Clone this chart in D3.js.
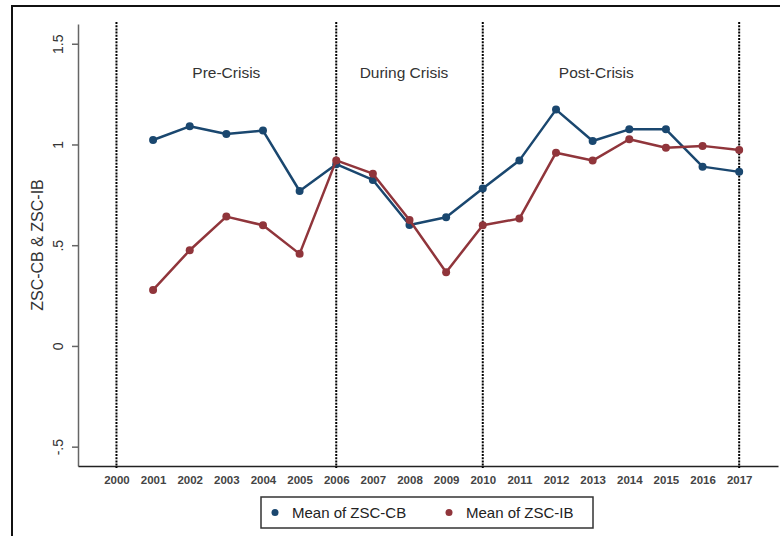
<!DOCTYPE html>
<html>
<head>
<meta charset="utf-8">
<script src="https://cdn.jsdelivr.net/npm/d3@7"></script>
<style>
  body { margin: 0; background: #fff; }
  svg { display: block; font-family: Arial, "Liberation Sans", sans-serif; }
</style>
</head>
<body>
<svg id="chart" width="780" height="536"></svg>
<script>
const years = [2001, 2002, 2003, 2004, 2005, 2006, 2007, 2008, 2009, 2010, 2011, 2012, 2013, 2014, 2015, 2016, 2017];
const zscCB = [1.022, 1.090, 1.052, 1.069, 0.769, 0.902, 0.824, 0.600, 0.639, 0.781, 0.921, 1.173, 1.017, 1.075, 1.075, 0.890, 0.864];
const zscIB = [0.278, 0.475, 0.642, 0.599, 0.457, 0.921, 0.855, 0.625, 0.366, 0.599, 0.632, 0.959, 0.920, 1.026, 0.984, 0.993, 0.973];

const xTicks = d3.range(2000, 2018);
const yTicks = [-0.5, 0, 0.5, 1, 1.5];
const yTickLabels = ['-.5', '0', '.5', '1', '1.5'];
const crisisLines = [2000, 2006, 2010, 2017];
const periodNames = ['Pre-Crisis', 'During Crisis', 'Post-Crisis'];
const periodYears = [2003, 2007.85, 2013.1];

const seriesNames = ['Mean of ZSC-CB', 'Mean of ZSC-IB'];
const colors = ['#1a476f', '#90353b'];

const svg = d3.select('#chart');
const margin = { top: 24, right: 2, bottom: 70, left: 78 };
const width = +svg.attr('width');
const height = +svg.attr('height');

const x = d3.scaleLinear()
    .domain([1998.95, 2018.06])
    .range([margin.left, width - margin.right]);
const y = d3.scaleLinear()
    .domain([-0.596, 1.598])
    .range([height - margin.bottom, margin.top]);

// outer frame
svg.append('rect')
    .attr('x', 12).attr('y', 6)
    .attr('width', 800).attr('height', 600)
    .attr('fill', 'none')
    .attr('stroke', '#111')
    .attr('stroke-width', 2);

// y axis
const yAxis = svg.append('g')
    .attr('transform', `translate(${margin.left},0)`)
    .call(d3.axisLeft(y)
        .tickValues(yTicks)
        .tickFormat((d, i) => yTickLabels[i])
        .tickSize(6)
        .tickSizeOuter(0));
yAxis.select('.domain').attr('stroke', '#666').attr('stroke-width', 1.5);
yAxis.selectAll('.tick line').attr('stroke', '#666').attr('stroke-width', 1.5);
yAxis.selectAll('.tick text')
    .attr('x', null).attr('dy', null)
    .attr('transform', 'translate(-20,0) rotate(-90)')
    .attr('text-anchor', 'middle')
    .attr('dominant-baseline', 'central')
    .attr('fill', '#333')
    .style('font-size', '14px');

svg.append('text')
    .attr('transform', `translate(37,${(margin.top + height - margin.bottom) / 2}) rotate(-90)`)
    .attr('text-anchor', 'middle')
    .attr('dominant-baseline', 'central')
    .attr('fill', '#333')
    .style('font-size', '16px')
    .text('ZSC-CB & ZSC-IB');

// x axis
const xAxis = svg.append('g')
    .attr('transform', `translate(0,${height - margin.bottom})`)
    .call(d3.axisBottom(x)
        .tickValues(xTicks)
        .tickFormat(d3.format('d'))
        .tickSize(0)
        .tickPadding(10));
xAxis.select('.domain').attr('stroke', '#222').attr('stroke-width', 1.5);
xAxis.selectAll('.tick text')
    .attr('fill', '#444')
    .style('font-size', '11.5px')
    .style('font-weight', 'bold');

// crisis separators
svg.selectAll('line.sep')
    .data(crisisLines)
    .enter()
    .append('line')
    .attr('class', 'sep')
    .attr('x1', d => x(d)).attr('x2', d => x(d))
    .attr('y1', 22).attr('y2', height - margin.bottom + 2)
    .attr('stroke', '#000')
    .attr('stroke-width', 2)
    .attr('stroke-dasharray', '2,1.2');

svg.selectAll('text.period')
    .data(periodNames)
    .enter()
    .append('text')
    .attr('class', 'period')
    .attr('x', (d, i) => x(periodYears[i]))
    .attr('y', 72)
    .attr('text-anchor', 'middle')
    .attr('dominant-baseline', 'central')
    .attr('fill', '#333')
    .style('font-size', '15.5px')
    .text(d => d);

// series
const lineGen = d3.line()
    .x(d => x(d.year))
    .y(d => y(d.value));

[zscCB, zscIB].forEach((vals, s) => {
    const pts = years.map((yr, i) => ({ year: yr, value: vals[i] }));
    svg.append('path')
        .datum(pts)
        .attr('d', lineGen)
        .attr('fill', 'none')
        .attr('stroke', colors[s])
        .attr('stroke-width', 2.5)
        .attr('stroke-linejoin', 'round');
    svg.selectAll(`circle.s${s}`)
        .data(pts)
        .enter()
        .append('circle')
        .attr('class', `s${s}`)
        .attr('cx', d => x(d.year))
        .attr('cy', d => y(d.value))
        .attr('r', 4)
        .attr('fill', colors[s]);
});

// legend
const legend = svg.append('g');
legend.append('rect')
    .attr('x', 261).attr('y', 497)
    .attr('width', 332).attr('height', 31)
    .attr('fill', '#fff')
    .attr('stroke', '#333')
    .attr('stroke-width', 1.5);
const legendX = [275, 449];
seriesNames.forEach((name, i) => {
    legend.append('circle')
        .attr('cx', legendX[i]).attr('cy', 512.5)
        .attr('r', 3.5)
        .attr('fill', colors[i]);
    legend.append('text')
        .attr('x', legendX[i] + 17).attr('y', 512.5)
        .attr('dominant-baseline', 'central')
        .attr('fill', '#222')
        .style('font-size', '15px')
        .text(name);
});
</script>
</body>
</html>
